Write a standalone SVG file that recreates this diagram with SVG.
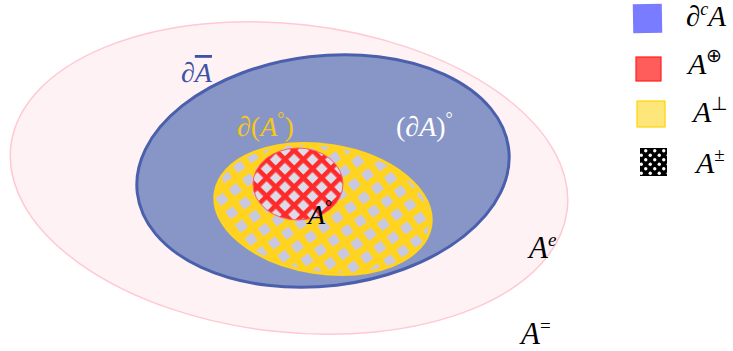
<svg xmlns="http://www.w3.org/2000/svg" width="733" height="351" viewBox="0 0 733 351">
<style>
text{font-family:'Liberation Serif','Times New Roman',serif;font-style:italic}
.u{font-style:normal}
</style>
<defs>
<pattern id="yh" width="16.5" height="16.5" patternUnits="userSpaceOnUse" patternTransform="rotate(45)">
<rect width="16.5" height="16.5" fill="#c8c8e2"/>
<rect x="0" y="0" width="16.5" height="7" fill="#ffd31e"/>
<rect x="0" y="0" width="7" height="16.5" fill="#ffd31e"/>
</pattern>
<pattern id="rh" width="13" height="13" patternUnits="userSpaceOnUse" patternTransform="rotate(45)">
<rect width="13" height="13" fill="#dedbe8"/>
<rect x="0" y="0" width="13" height="4.6" fill="#ff2a2a"/>
<rect x="0" y="0" width="4.6" height="13" fill="#ff2a2a"/>
</pattern>
<pattern id="bd" width="9" height="9" patternUnits="userSpaceOnUse">
<rect width="9" height="9" fill="#000"/>
<circle cx="2.25" cy="2.25" r="1.7" fill="#fff"/>
<circle cx="6.75" cy="6.75" r="1.7" fill="#fff"/>
</pattern>
</defs>
<g id="outer">
<ellipse cx="289" cy="178" rx="280" ry="154" transform="rotate(6.5 289 178)" fill="#fff2f4" stroke="#ffc9d3" stroke-width="1.5"/>
</g>
<g id="closure">
<ellipse cx="323" cy="171" rx="187" ry="115" transform="rotate(-6.8 323 171)" fill="#8896c7" stroke="#4a60ad" stroke-width="3"/>
</g>
<g id="interior">
<ellipse cx="323" cy="209" rx="109" ry="64" transform="rotate(8.8 323 209)" fill="url(#yh)" stroke="#ffd31e" stroke-width="3"/>
</g>
<g id="core">
<ellipse cx="298" cy="184" rx="45" ry="36" fill="url(#rh)" stroke="#ff5a6a" stroke-width="1"/>
</g>
<g id="connectors"></g>
<g id="labels">
<text x="181" y="82" font-size="28" fill="#3d53a5">∂<tspan text-decoration="overline">A</tspan></text>
<text x="237" y="136" font-size="28" fill="#f5c816">∂<tspan class="u">(</tspan>A<tspan class="u" font-size="18" dy="-11">°</tspan><tspan class="u" dy="11">)</tspan></text>
<text x="396" y="136" font-size="28" fill="#ffffff"><tspan class="u">(</tspan>∂A<tspan class="u">)</tspan><tspan class="u" font-size="18" dy="-11">°</tspan></text>
<text x="308" y="224" font-size="28" fill="#000">A<tspan class="u" font-size="18" dy="-11">°</tspan></text>
<text x="529" y="258" font-size="31" fill="#000">A<tspan font-size="19" dy="-12">e</tspan></text>
<text x="521" y="344" font-size="31" fill="#000">A<tspan class="u" font-size="19" dy="-12">=</tspan></text>
</g>
<g id="legend">
<rect x="633" y="4" width="29" height="29" fill="#7a7cff" transform="rotate(-1 647 18)"/>
<text x="686" y="26" font-size="29">∂<tspan font-size="18" dy="-11">c</tspan><tspan dy="11">A</tspan></text>
<rect x="636" y="57" width="25" height="24" fill="#ff5c5c" stroke="#ff1f1f" stroke-width="1.2"/>
<text x="688" y="74" font-size="30">A<tspan class="u" font-size="19" dy="-12">⊕</tspan></text>
<rect x="637" y="101" width="28" height="26" fill="#ffe67a" stroke="#ffd400" stroke-width="1.2"/>
<text x="693" y="122" font-size="30">A<tspan class="u" font-size="19" dy="-12">⊥</tspan></text>
<rect x="640" y="148" width="27" height="28" fill="url(#bd)"/>
<text x="696" y="173" font-size="30">A<tspan class="u" font-size="19" dy="-12">±</tspan></text>
</g>
</svg>
